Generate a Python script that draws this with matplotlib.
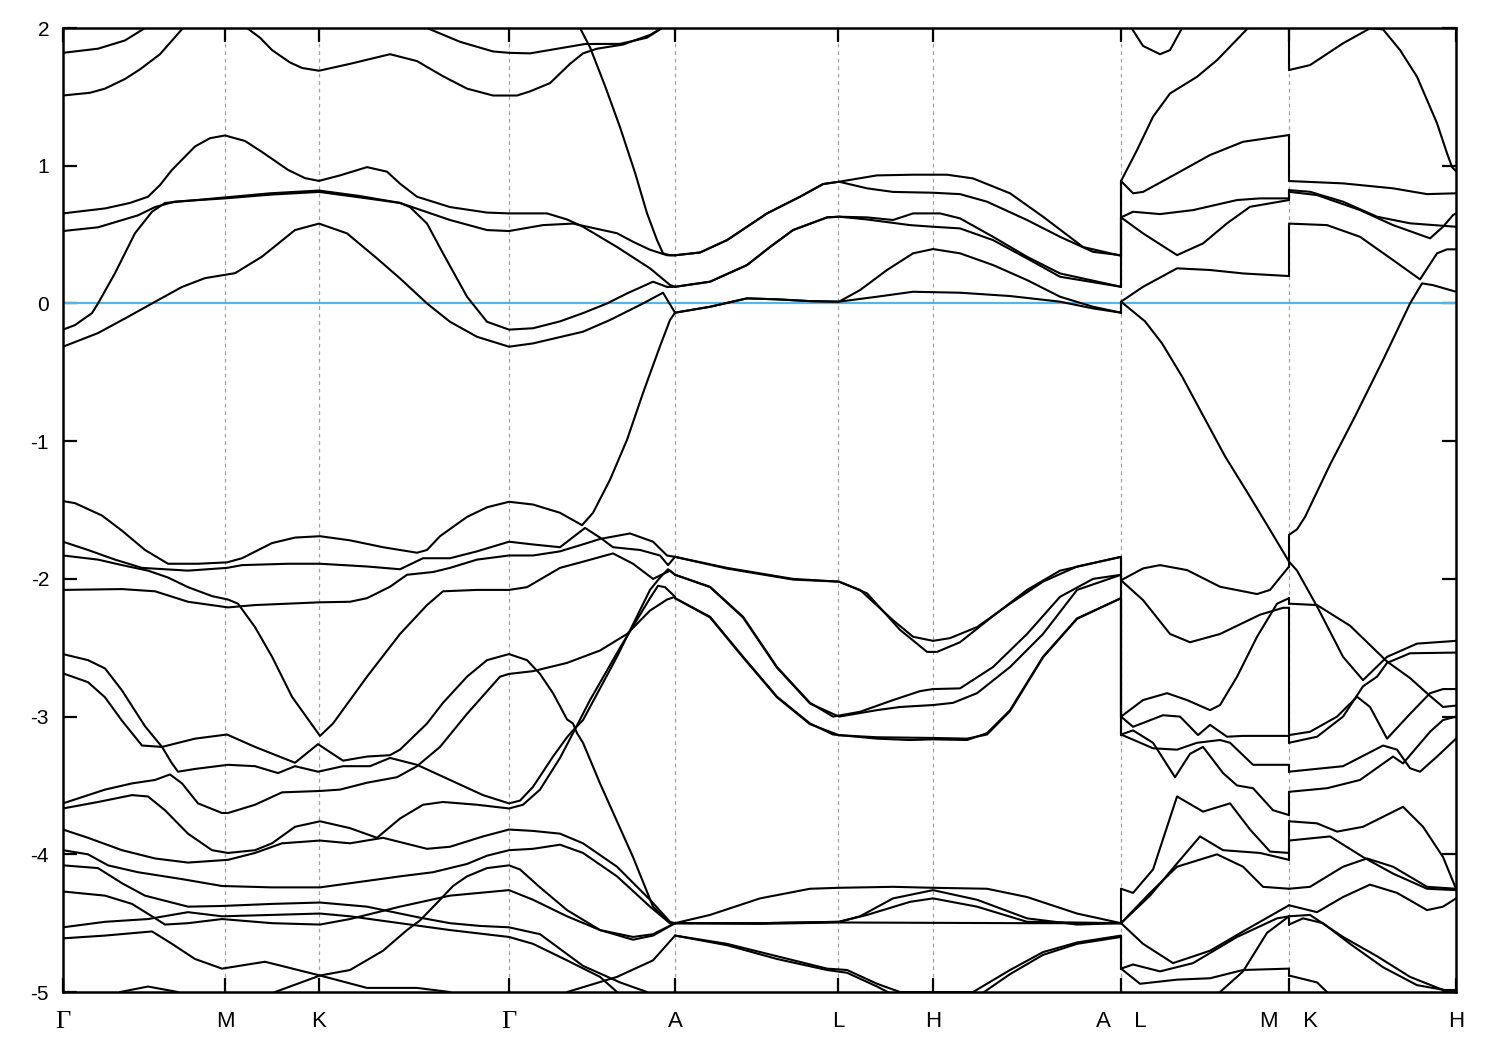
import matplotlib
matplotlib.use("Agg")
import matplotlib.pyplot as plt

plt.rcParams['font.family'] = ['Liberation Sans', 'DejaVu Sans']
plt.rcParams['axes.unicode_minus'] = False

# ---- axis data -------------------------------------------------------
K_TICKS = [63, 225, 319, 509, 675, 838, 933, 1121, 1289, 1456]
K_LABELS = ["Γ", "M", "K", "Γ", "A", "L", "H", "A    L", "M    K", "H"]
JUMPS = [1121, 1289]
E_MIN, E_MAX = -5, 2
E_TICKS = [2, 1, 0, -1, -2, -3, -4, -5]
E_FERMI = 0.0

# ---- segment 1 : Γ - M - K - Γ - A  (k, E[eV]) ----------------------
s1_a1 = [(63, 1.82), (98, 1.85), (125, 1.91), (145, 2.0)]
s1_a2 = [(427, 2.0), (460, 1.90), (493, 1.83), (509, 1.82), (530, 1.816), (585, 1.884),
         (620, 1.885), (647, 1.93), (662, 2.0)]
s1_b1 = [(63, 1.51), (90, 1.53), (105, 1.56), (125, 1.63), (140, 1.70), (160, 1.81), (183, 2.0)]
s1_b2 = [(247, 2.0), (260, 1.93), (272, 1.84), (290, 1.75), (302, 1.71), (319, 1.69), (350, 1.74),
         (390, 1.81), (417, 1.76), (443, 1.65), (467, 1.56), (493, 1.51), (517, 1.51), (530, 1.54),
         (550, 1.60), (570, 1.74), (583, 1.816), (597, 1.85), (623, 1.88), (650, 1.95), (662, 2.0)]
s1_steep = [(580, 2.0), (590, 1.86), (605, 1.58), (620, 1.28), (635, 0.95), (647, 0.655),
            (657, 0.46), (663, 0.364), (670, 0.35), (675, 0.35)]
s1_c = [(63, 0.654), (105, 0.69), (130, 0.73), (148, 0.775), (160, 0.86), (172, 0.97), (195, 1.14),
        (210, 1.20), (225, 1.22), (245, 1.18), (262, 1.10), (288, 0.97), (305, 0.91), (319, 0.89),
        (340, 0.93), (367, 0.99), (387, 0.957), (400, 0.87), (417, 0.775), (450, 0.70), (487, 0.66),
        (509, 0.654), (547, 0.654), (567, 0.61), (583, 0.557), (617, 0.41), (650, 0.255),
        (670, 0.134), (675, 0.121)]
s1_d = [(63, 0.526), (98, 0.553), (138, 0.64), (155, 0.70), (175, 0.74), (225, 0.763), (270, 0.79),
        (319, 0.81), (360, 0.77), (400, 0.73), (450, 0.606), (487, 0.533), (509, 0.526),
        (543, 0.569), (573, 0.58), (617, 0.51), (633, 0.448), (650, 0.39), (667, 0.35), (675, 0.35)]
s1_e = [(63, -0.19), (75, -0.157), (92, -0.07), (98, 0.0), (115, 0.22), (135, 0.51), (152, 0.666),
        (165, 0.73), (225, 0.77), (270, 0.80), (319, 0.82), (360, 0.78), (400, 0.73), (410, 0.70),
        (427, 0.58), (443, 0.364), (467, 0.049), (487, -0.133), (509, -0.19), (533, -0.18),
        (560, -0.13), (583, -0.07), (607, 0.0), (627, 0.073), (653, 0.158), (667, 0.12), (675, 0.121)]
s1_f = [(63, -0.314), (98, -0.215), (128, -0.097), (152, 0.0), (182, 0.12), (205, 0.184),
        (235, 0.22), (262, 0.34), (295, 0.533), (319, 0.58), (347, 0.509), (377, 0.327),
        (400, 0.182), (427, 0.0), (450, -0.133), (477, -0.242), (509, -0.314), (533, -0.29),
        (583, -0.205), (610, -0.12), (643, 0.0), (663, 0.078), (675, -0.067)]
s1_g = [(63, -1.435), (75, -1.45), (102, -1.54), (122, -1.65), (145, -1.79), (168, -1.89),
        (198, -1.89), (227, -1.88), (242, -1.85), (272, -1.74), (295, -1.70), (320, -1.69),
        (350, -1.72), (383, -1.77), (417, -1.81), (427, -1.79), (440, -1.69), (467, -1.55),
        (487, -1.48), (509, -1.44), (533, -1.46), (560, -1.52), (582, -1.61), (593, -1.52),
        (610, -1.28), (627, -0.99), (643, -0.65), (660, -0.31), (670, -0.12), (675, -0.067)]
s1_h = [(63, -1.73), (88, -1.79), (115, -1.86), (142, -1.92), (188, -1.94), (227, -1.92),
        (242, -1.90), (288, -1.89), (320, -1.89), (367, -1.91), (400, -1.93), (423, -1.85),
        (450, -1.85), (477, -1.80), (509, -1.73), (533, -1.75), (560, -1.77), (585, -1.63),
        (600, -1.70), (613, -1.77), (640, -1.79), (660, -1.83), (668, -1.90), (675, -1.84)]
s1_p = [(63, -1.83), (98, -1.86), (122, -1.90), (148, -1.94), (168, -1.99), (188, -2.06),
        (212, -2.125), (228, -2.15), (238, -2.18), (255, -2.35), (272, -2.565), (292, -2.856),
        (318, -3.12), (320, -3.14), (333, -3.05), (367, -2.71), (400, -2.40), (427, -2.19),
        (443, -2.09), (477, -2.08), (509, -2.08), (527, -2.06), (560, -1.92), (583, -1.875),
        (613, -1.815), (633, -1.89), (653, -2.0), (670, -1.94), (675, -1.97)]
s1_q = [(63, -2.08), (122, -2.074), (155, -2.09), (188, -2.166), (228, -2.207), (255, -2.19),
        (320, -2.17), (350, -2.166), (367, -2.14), (390, -2.057), (407, -1.97), (433, -1.95),
        (450, -1.92), (477, -1.86), (509, -1.83), (533, -1.83), (560, -1.80), (587, -1.74),
        (600, -1.71), (630, -1.67), (653, -1.73), (667, -1.83), (675, -1.84)]
s1_i = [(63, -2.546), (88, -2.59), (105, -2.65), (122, -2.81), (145, -3.07), (162, -3.22),
        (172, -3.34), (178, -3.40), (195, -3.38), (228, -3.35), (255, -3.36), (278, -3.41),
        (295, -3.36), (318, -3.40), (343, -3.36), (370, -3.36), (390, -3.30), (417, -3.35),
        (450, -3.46), (483, -3.57), (509, -3.63), (520, -3.61), (533, -3.51), (553, -3.29),
        (567, -3.15), (573, -3.10), (583, -3.025), (617, -2.565), (650, -2.08), (660, -1.99),
        (668, -1.93), (675, -1.97)]
s1_j = [(63, -2.686), (88, -2.75), (105, -2.86), (122, -3.03), (142, -3.21), (162, -3.22),
        (195, -3.16), (227, -3.13), (255, -3.22), (295, -3.335), (318, -3.20), (343, -3.32),
        (367, -3.29), (390, -3.28), (400, -3.24), (427, -3.05), (443, -2.90), (467, -2.71),
        (487, -2.59), (509, -2.546), (527, -2.59), (540, -2.69), (553, -2.83), (567, -3.02),
        (573, -3.05), (577, -3.12), (583, -3.19), (600, -3.485), (633, -4.02), (653, -4.38),
        (670, -4.50), (675, -4.5)]
s1_k1 = [(63, -3.63), (105, -3.53), (132, -3.485), (155, -3.46), (170, -3.42), (182, -3.485),
         (198, -3.63), (222, -3.70), (228, -3.70), (255, -3.64), (282, -3.55), (320, -3.54),
         (340, -3.53), (367, -3.48), (397, -3.44), (417, -3.36), (440, -3.22), (467, -2.98),
         (500, -2.71), (509, -2.69), (533, -2.67), (567, -2.61), (600, -2.52), (627, -2.40),
         (650, -2.23), (667, -2.15), (675, -2.13)]
s1_k2 = [(63, -3.667), (98, -3.62), (132, -3.57), (148, -3.58), (165, -3.68), (188, -3.85),
         (212, -3.97), (228, -3.99), (255, -3.97), (272, -3.92), (295, -3.80), (320, -3.76),
         (350, -3.81), (377, -3.88), (400, -3.74), (423, -3.64), (443, -3.62), (477, -3.64),
         (509, -3.667), (523, -3.64), (540, -3.53), (560, -3.30), (573, -3.12), (590, -2.88),
         (620, -2.50), (650, -2.14), (658, -2.05), (665, -2.06), (675, -2.13)]
s1_l3 = [(63, -3.82), (88, -3.88), (122, -3.97), (155, -4.03), (188, -4.06), (228, -4.04),
         (255, -3.99), (282, -3.92), (320, -3.90), (350, -3.92), (383, -3.88), (427, -3.96),
         (450, -3.945), (483, -3.87), (509, -3.82), (533, -3.83), (560, -3.85), (583, -3.92),
         (617, -4.09), (650, -4.33), (670, -4.49), (675, -4.5)]
s1_l4 = [(63, -3.97), (88, -4.00), (108, -4.08), (138, -4.13), (182, -4.18), (222, -4.23),
         (272, -4.24), (320, -4.24), (350, -4.21), (400, -4.16), (433, -4.13), (467, -4.07),
         (487, -4.01), (509, -3.97), (533, -3.96), (560, -3.93), (583, -3.99), (617, -4.16),
         (650, -4.38), (670, -4.50), (675, -4.5)]
s1_l5 = [(63, -4.08), (98, -4.10), (122, -4.21), (145, -4.30), (188, -4.38), (222, -4.375),
         (272, -4.36), (320, -4.35), (367, -4.38), (400, -4.43), (420, -4.46), (450, -4.50),
         (480, -4.52), (509, -4.53), (540, -4.58), (583, -4.81), (620, -4.93), (647, -5.0)]
s1_l7 = [(63, -4.27), (105, -4.30), (132, -4.36), (152, -4.45), (165, -4.51), (188, -4.50),
         (222, -4.47), (272, -4.50), (320, -4.51), (350, -4.47), (400, -4.38), (450, -4.30),
         (509, -4.26), (533, -4.33), (567, -4.45), (600, -4.55), (633, -4.60), (653, -4.58),
         (675, -4.5)]
s1_l8 = [(63, -4.53), (105, -4.49), (148, -4.47), (188, -4.42), (222, -4.45), (272, -4.44),
         (320, -4.43), (350, -4.45), (400, -4.50), (450, -4.55), (509, -4.60), (533, -4.65),
         (567, -4.77), (600, -4.89), (617, -5.0)]
s1_l9 = [(63, -4.61), (105, -4.59), (152, -4.56), (172, -4.65), (195, -4.76), (222, -4.83),
         (265, -4.78), (320, -4.88), (367, -4.97), (417, -4.97), (450, -5.0)]
s1_rise = [(275, -5.0), (320, -4.88), (350, -4.84), (383, -4.70), (407, -4.55), (420, -4.48),
           (440, -4.33), (453, -4.23), (467, -4.16), (487, -4.10), (509, -4.08), (520, -4.11),
           (540, -4.24), (567, -4.405), (600, -4.55), (633, -4.62), (653, -4.59), (675, -4.5)]
s1_arc = [(120, -5.0), (148, -4.96), (178, -5.0)]
s1_bot = [(567, -5.0), (617, -4.89), (653, -4.77), (675, -4.59)]

SEG1 = [s1_a1, s1_a2, s1_b1, s1_b2, s1_steep, s1_c, s1_d, s1_e, s1_f, s1_g, s1_h, s1_p, s1_q,
        s1_i, s1_j, s1_k1, s1_k2, s1_l3, s1_l4, s1_l5, s1_l7, s1_l8, s1_l9, s1_rise, s1_arc, s1_bot]

# ---- segment 2 : A - L - H - A --------------------------------------
s2_u1 = [(675, 0.35), (700, 0.37), (727, 0.46), (767, 0.654), (800, 0.775), (823, 0.867),
         (839, 0.884), (877, 0.93), (913, 0.935), (947, 0.935), (973, 0.908), (1010, 0.80),
         (1043, 0.63), (1083, 0.41), (1121, 0.346)]
s2_u2 = [(675, 0.35), (700, 0.37), (727, 0.46), (767, 0.654), (800, 0.775), (823, 0.867),
         (839, 0.884), (867, 0.836), (893, 0.81), (933, 0.804), (960, 0.794), (987, 0.739),
         (1027, 0.606), (1060, 0.484), (1093, 0.375), (1121, 0.35)]
s2_u3 = [(675, 0.121), (710, 0.158), (747, 0.279), (770, 0.41), (793, 0.533), (827, 0.625),
         (839, 0.63), (867, 0.625), (893, 0.606), (913, 0.654), (940, 0.654), (960, 0.618),
         (993, 0.484), (1027, 0.339), (1060, 0.218), (1121, 0.121)]
s2_u4 = [(675, 0.121), (710, 0.158), (747, 0.279), (770, 0.41), (793, 0.533), (827, 0.625),
         (839, 0.63), (867, 0.61), (910, 0.569), (933, 0.557), (960, 0.545), (993, 0.46),
         (1027, 0.327), (1060, 0.194), (1121, 0.121)]
s2_u5 = [(675, -0.067), (710, -0.024), (747, 0.037), (777, 0.03), (810, 0.017), (839, 0.013),
         (860, 0.097), (887, 0.243), (913, 0.364), (933, 0.395), (960, 0.364), (993, 0.279),
         (1027, 0.17), (1060, 0.049), (1093, -0.024), (1121, -0.067)]
s2_u6 = [(675, -0.067), (710, -0.024), (747, 0.037), (777, 0.03), (810, 0.017), (839, 0.013),
         (877, 0.049), (913, 0.085), (960, 0.078), (1010, 0.054), (1060, 0.013), (1093, -0.036),
         (1121, -0.067)]
s2_b1 = [(675, -1.84), (727, -1.92), (793, -2.00), (839, -2.02), (860, -2.08), (893, -2.30),
         (913, -2.42), (933, -2.45), (950, -2.43), (977, -2.35), (1010, -2.18), (1043, -2.02),
         (1077, -1.91), (1121, -1.84)]
s2_b2 = [(675, -1.84), (727, -1.925), (793, -2.005), (839, -2.02), (867, -2.105), (900, -2.37),
         (927, -2.53), (937, -2.53), (960, -2.46), (993, -2.27), (1027, -2.08), (1060, -1.94),
         (1121, -1.84)]
s2_b3 = [(675, -1.97), (710, -2.057), (743, -2.275), (777, -2.64), (810, -2.90), (833, -3.00),
         (860, -2.965), (893, -2.88), (920, -2.815), (933, -2.80), (960, -2.795), (993, -2.64),
         (1027, -2.40), (1060, -2.13), (1093, -2.0), (1121, -1.97)]
s2_b4 = [(675, -1.97), (710, -2.06), (743, -2.28), (777, -2.645), (810, -2.905), (839, -3.00),
         (877, -2.953), (900, -2.93), (933, -2.916), (953, -2.90), (977, -2.83), (1010, -2.64),
         (1043, -2.40), (1077, -2.08), (1121, -1.97)]
s2_b5 = [(675, -2.14), (710, -2.275), (743, -2.565), (777, -2.856), (810, -3.05), (833, -3.13),
         (877, -3.16), (910, -3.17), (933, -3.165), (967, -3.17), (987, -3.12), (1010, -2.953),
         (1043, -2.565), (1077, -2.287), (1121, -2.14)]
s2_b6 = [(675, -2.14), (710, -2.28), (743, -2.57), (777, -2.86), (810, -3.055), (839, -3.135),
         (877, -3.15), (933, -3.155), (967, -3.16), (987, -3.13), (1010, -2.96), (1043, -2.57),
         (1077, -2.29), (1121, -2.14)]
s2_a1 = [(675, -4.50), (710, -4.44), (760, -4.32), (810, -4.25), (839, -4.243), (893, -4.236),
         (933, -4.243), (987, -4.25), (1027, -4.31), (1077, -4.43), (1121, -4.50)]
s2_a2 = [(675, -4.50), (760, -4.50), (839, -4.49), (860, -4.45), (893, -4.32), (933, -4.26),
         (977, -4.33), (1027, -4.465), (1077, -4.51), (1121, -4.50)]
s2_a3 = [(675, -4.50), (760, -4.50), (839, -4.49), (867, -4.44), (910, -4.345), (933, -4.32),
         (977, -4.38), (1027, -4.49), (1121, -4.50)]
s2_a4 = [(675, -4.50), (760, -4.505), (839, -4.495), (1027, -4.50), (1121, -4.50)]
s2_bl1 = [(675, -4.59), (727, -4.65), (777, -4.74), (827, -4.83), (847, -4.84), (877, -4.94),
          (900, -5.0), (973, -5.0), (1010, -4.84), (1043, -4.71), (1077, -4.64), (1121, -4.59)]
s2_bl2 = [(675, -4.59), (727, -4.66), (777, -4.76), (827, -4.84), (847, -4.86), (877, -4.96),
          (893, -5.02), (980, -5.02), (1010, -4.87), (1043, -4.73), (1077, -4.65), (1121, -4.60)]

SEG2 = [s2_u1, s2_u2, s2_u3, s2_u4, s2_u5, s2_u6, s2_b1, s2_b2, s2_b3, s2_b4, s2_b5, s2_b6,
        s2_a1, s2_a2, s2_a3, s2_a4, s2_bl1, s2_bl2]

# ---- segment 3 : L - M ------------------------------------------------
s3_r1 = [(1121, 0.889), (1137, 1.114), (1153, 1.356), (1170, 1.525), (1197, 1.646),
         (1217, 1.767), (1248, 2.0), (1289, 2.25)]
s3_top = [(1127, 2.05), (1143, 1.87), (1160, 1.81), (1170, 1.84), (1182, 2.0)]
s3_r2 = [(1121, 0.889), (1133, 0.80), (1143, 0.81), (1177, 0.945), (1210, 1.078), (1243, 1.174),
         (1289, 1.223)]
s3_r3 = [(1121, 0.625), (1133, 0.666), (1160, 0.649), (1193, 0.678), (1237, 0.751), (1260, 0.763),
         (1289, 0.763)]
s3_r4 = [(1121, 0.625), (1143, 0.509), (1177, 0.351), (1203, 0.436), (1227, 0.582), (1250, 0.702),
         (1289, 0.751)]
s3_r5 = [(1121, 0.013), (1145, -0.13), (1162, -0.29), (1182, -0.53), (1202, -0.80), (1225, -1.11),
         (1248, -1.38), (1268, -1.62), (1289, -1.875)]
s3_r6 = [(1121, 0.013), (1143, 0.121), (1177, 0.255), (1210, 0.243), (1243, 0.218), (1289, 0.199)]
s3_m1 = [(1121, -2.01), (1143, -1.924), (1160, -1.90), (1187, -1.936), (1220, -2.057),
         (1257, -2.11), (1270, -2.08), (1289, -1.91)]
s3_m2 = [(1121, -2.01), (1143, -2.154), (1170, -2.40), (1190, -2.46), (1220, -2.40), (1260, -2.26),
         (1283, -2.21), (1289, -2.21)]
s3_m3 = [(1121, -3.0), (1143, -2.88), (1167, -2.83), (1187, -2.88), (1210, -2.953), (1220, -2.916),
         (1237, -2.71), (1257, -2.42), (1277, -2.18), (1289, -2.14)]
s3_m4 = [(1121, -3.0), (1133, -3.074), (1163, -2.99), (1180, -3.0), (1198, -3.134), (1210, -3.06),
         (1227, -3.146), (1243, -3.14), (1289, -3.14)]
s3_m5 = [(1121, -3.13), (1133, -3.10), (1153, -3.19), (1175, -3.44), (1190, -3.27), (1203, -3.22),
         (1223, -3.41), (1237, -3.50), (1253, -3.52), (1273, -3.68), (1289, -3.715)]
s3_m6 = [(1121, -3.13), (1153, -3.23), (1177, -3.24), (1197, -3.19), (1220, -3.17), (1230, -3.19),
         (1253, -3.35), (1289, -3.35)]
s3_m7 = [(1121, -4.25), (1133, -4.28), (1153, -4.11), (1177, -3.58), (1203, -3.69), (1230, -3.63),
         (1250, -3.82), (1270, -3.98), (1289, -3.99)]
s3_m8 = [(1121, -4.50), (1150, -4.30), (1177, -4.066), (1200, -3.87), (1223, -3.97), (1260, -3.99),
         (1289, -4.04)]
s3_m9 = [(1121, -4.50), (1150, -4.28), (1177, -4.09), (1217, -4.0), (1243, -4.09), (1263, -4.236),
         (1289, -4.25)]
s3_m10 = [(1121, -4.50), (1143, -4.65), (1173, -4.79), (1210, -4.70), (1243, -4.56), (1289, -4.37)]
s3_m11 = [(1121, -4.83), (1133, -4.80), (1160, -4.85), (1193, -4.79), (1237, -4.60), (1277, -4.465),
          (1289, -4.45)]
s3_m12 = [(1121, -4.83), (1140, -4.94), (1177, -4.91), (1210, -4.90), (1243, -4.84), (1289, -4.83)]
s3_m13 = [(1220, -5.0), (1243, -4.85), (1267, -4.57), (1289, -4.45)]

SEG3 = [s3_r1, s3_top, s3_r2, s3_r3, s3_r4, s3_r5, s3_r6, s3_m1, s3_m2, s3_m3, s3_m4, s3_m5,
        s3_m6, s3_m7, s3_m8, s3_m9, s3_m10, s3_m11, s3_m12, s3_m13]

# ---- segment 4 : K - H ------------------------------------------------
s4_h1 = [(1289, 1.695), (1310, 1.731), (1343, 1.889), (1370, 1.998), (1383, 1.99), (1400, 1.84),
         (1417, 1.646), (1437, 1.308), (1447, 1.09), (1452, 0.99), (1456, 0.96)]
s4_h2 = [(1289, 0.889), (1343, 0.872), (1393, 0.836), (1427, 0.794), (1456, 0.80)]
s4_h3 = [(1289, 0.823), (1310, 0.811), (1343, 0.739), (1377, 0.63), (1410, 0.582), (1456, 0.557)]
s4_h4 = [(1289, 0.811), (1317, 0.787), (1360, 0.678), (1393, 0.569), (1430, 0.473), (1443, 0.557),
         (1453, 0.642), (1456, 0.654)]
s4_h5 = [(1289, 0.58), (1327, 0.569), (1360, 0.484), (1393, 0.315), (1420, 0.175), (1437, 0.364),
         (1447, 0.393), (1456, 0.393)]
s4_h6 = [(1289, -1.68), (1297, -1.64), (1305, -1.55), (1330, -1.17), (1355, -0.82), (1383, -0.41),
         (1410, 0.0), (1422, 0.146), (1433, 0.133), (1456, 0.085)]
s4_a = [(1289, -1.875), (1297, -1.94), (1317, -2.20), (1343, -2.566), (1363, -2.735),
        (1387, -2.566), (1417, -2.47), (1456, -2.45)]
s4_b = [(1289, -2.18), (1317, -2.19), (1350, -2.34), (1387, -2.60), (1410, -2.72), (1430, -2.85),
        (1443, -2.93), (1456, -2.92)]
s4_c = [(1289, -3.134), (1310, -3.11), (1337, -3.00), (1357, -2.856), (1370, -2.93),
        (1387, -3.16), (1410, -2.98), (1430, -2.83), (1443, -2.80), (1456, -2.80)]
s4_d = [(1289, -3.19), (1317, -3.146), (1343, -3.0), (1363, -2.78), (1377, -2.71), (1387, -2.61),
        (1410, -2.54), (1456, -2.535)]
s4_e = [(1289, -3.40), (1343, -3.36), (1383, -3.21), (1397, -3.24), (1410, -3.375), (1420, -3.40),
        (1437, -3.29), (1456, -3.16)]
s4_f = [(1289, -3.546), (1327, -3.52), (1360, -3.46), (1393, -3.29), (1403, -3.34), (1430, -3.11),
        (1443, -3.025), (1456, -3.0)]
s4_g = [(1289, -3.76), (1317, -3.775), (1337, -3.835), (1363, -3.80), (1403, -3.655),
        (1423, -3.80), (1443, -4.02), (1456, -4.25)]
s4_hh = [(1289, -3.90), (1330, -3.87), (1363, -4.02), (1393, -4.14), (1427, -4.25), (1456, -4.26)]
s4_i = [(1289, -4.25), (1310, -4.236), (1343, -4.09), (1367, -4.03), (1393, -4.09), (1427, -4.236),
        (1456, -4.25)]
s4_j = [(1289, -4.37), (1317, -4.42), (1343, -4.31), (1370, -4.22), (1397, -4.28), (1427, -4.405),
        (1443, -4.38), (1456, -4.32)]
s4_k = [(1289, -4.45), (1310, -4.44), (1343, -4.60), (1377, -4.74), (1410, -4.89), (1443, -4.985),
        (1456, -4.985)]
s4_l = [(1289, -4.51), (1303, -4.465), (1323, -4.50), (1350, -4.65), (1383, -4.82), (1417, -4.95),
        (1456, -5.0)]
s4_m = [(1289, -4.88), (1317, -4.93), (1327, -5.0)]

SEG4 = [s4_h1, s4_h2, s4_h3, s4_h4, s4_h5, s4_h6, s4_a, s4_b, s4_c, s4_d, s4_e, s4_f, s4_g,
        s4_hh, s4_i, s4_j, s4_k, s4_l, s4_m]

# ---- drawing ----------------------------------------------------------
fig = plt.figure(figsize=(15, 10.5), dpi=100)
ax = fig.add_axes([0.042, 0.0552, 0.9287, 0.9181])

BAND_KW = dict(color='black', lw=1.5, solid_joinstyle='round', solid_capstyle='round')

for kx in K_TICKS[1:-1]:
    ax.axvline(kx, color='#a0a0a0', lw=0.9, ls=(0, (3, 3)), zorder=1)

ax.axhline(E_FERMI, color='#56B4E9', lw=1.6, zorder=2)

for seg in (SEG1, SEG2, SEG3, SEG4):
    for band in seg:
        ks = [p[0] for p in band]
        es = [p[1] for p in band]
        ax.plot(ks, es, zorder=3, **BAND_KW)

# vertical connections at the path discontinuities (bands paired by energy order)
for kj, left, right in ((JUMPS[0], SEG2, SEG3), (JUMPS[1], SEG3, SEG4)):
    le = sorted([b[-1][1] for b in left if b[-1][0] == kj], reverse=True)
    re_ = sorted([b[0][1] for b in right if b[0][0] == kj], reverse=True)
    for a, b in zip(le, re_):
        ax.plot([kj, kj], [a, b], zorder=3, **BAND_KW)

ax.set_xlim(K_TICKS[0], K_TICKS[-1])
ax.set_ylim(E_MIN, E_MAX)
ax.set_yticks(E_TICKS)
ax.set_yticklabels([str(t) for t in E_TICKS])
ax.set_xticks(K_TICKS)
ax.set_xticklabels(K_LABELS)

ax.tick_params(axis='both', direction='in', length=10, width=1.6, top=True, right=True)
ax.tick_params(axis='y', labelsize=15, pad=10)
ax.tick_params(axis='x', labelsize=16, pad=14)
for lab, txt in zip(ax.get_xticklabels(), K_LABELS):
    if txt == "Γ":
        lab.set_fontfamily(['Liberation Serif', 'DejaVu Serif'])
        lab.set_fontsize(19)
for sp in ax.spines.values():
    sp.set_linewidth(1.8)

fig.savefig("out.png", dpi=100)
